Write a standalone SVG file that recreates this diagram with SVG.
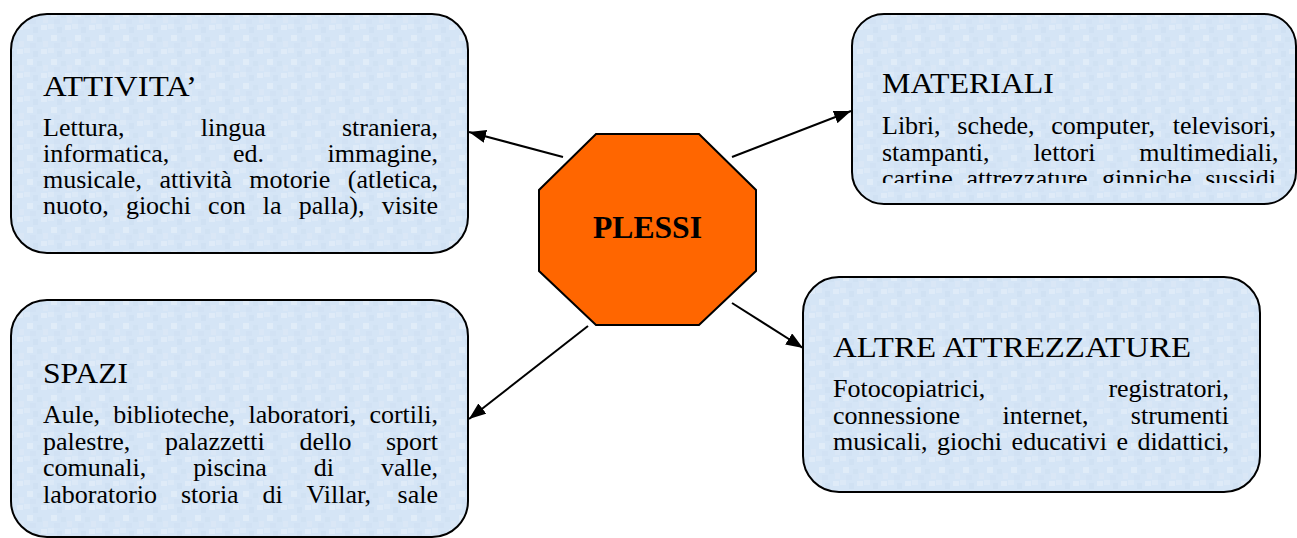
<svg xmlns="http://www.w3.org/2000/svg" width="1297" height="538" viewBox="0 0 1297 538">
<style>
.box{fill:url(#tex);stroke:#000;stroke-width:2}
.title{font-family:"Liberation Serif","Times New Roman",serif;font-size:30px;fill:#000}
.body{font-family:"Liberation Serif","Times New Roman",serif;font-size:26px;fill:#000}
.conn{stroke:#000;stroke-width:2;fill:none;marker-end:url(#arrow)}
</style>
<defs>
<pattern id="tex" width="24" height="24" patternUnits="userSpaceOnUse">
<rect width="24" height="24" fill="#d5e5f6"/>
<rect x="0" y="0" width="6" height="5" fill="#dce9f7"/>
<rect x="9" y="3" width="5" height="6" fill="#d0e1f3"/>
<rect x="17" y="1" width="6" height="5" fill="#dfebf8"/>
<rect x="3" y="11" width="6" height="6" fill="#e0ecf8"/>
<rect x="13" y="13" width="5" height="5" fill="#d1e2f3"/>
<rect x="19" y="17" width="5" height="6" fill="#dae7f6"/>
<rect x="6" y="19" width="6" height="5" fill="#d2e2f4"/>
</pattern>
<marker id="arrow" markerWidth="17" markerHeight="13" refX="17" refY="6.5" orient="auto" markerUnits="userSpaceOnUse">
<path d="M0,0 L17,6.5 L0,13 z" fill="#000"/>
</marker>
<clipPath id="clipMat"><rect x="852" y="14" width="445" height="169"/></clipPath>
</defs>

<g id="connectors">
<path class="conn" d="M563,157 L469,132"/>
<path class="conn" d="M732,157 L851,111"/>
<path class="conn" d="M588,326 L469,419"/>
<path class="conn" d="M732,303 L803,348"/>
</g>

<g id="attivita">
<rect class="box" x="11" y="14" width="457" height="239" rx="36" ry="36"/>
<text class="title" x="43" y="96" textLength="154" lengthAdjust="spacingAndGlyphs">ATTIVITA’</text>
<text class="body" y="136"><tspan x="43">Lettura,</tspan><tspan x="200.8">lingua</tspan><tspan x="342">straniera,</tspan></text>
<text class="body" y="162"><tspan x="43">informatica,</tspan><tspan x="232.9">ed.</tspan><tspan x="327.5">immagine,</tspan></text>
<text class="body" y="188"><tspan x="43">musicale,</tspan><tspan x="159.5">attività</tspan><tspan x="249.3">motorie</tspan><tspan x="347.8">(atletica,</tspan></text>
<text class="body" y="214"><tspan x="43">nuoto,</tspan><tspan x="125.9">giochi</tspan><tspan x="208.1">con</tspan><tspan x="262.8">la</tspan><tspan x="298.8">palla),</tspan><tspan x="381.7">visite</tspan></text>
</g>

<g id="materiali">
<rect class="box" x="852" y="14" width="444" height="190" rx="32" ry="32"/>
<text class="title" x="882" y="93" textLength="172" lengthAdjust="spacingAndGlyphs">MATERIALI</text>
<text class="body" y="134"><tspan x="882">Libri,</tspan><tspan x="957.3">schede,</tspan><tspan x="1051.3">computer,</tspan><tspan x="1172.7">televisori,</tspan></text>
<text class="body" y="160.5"><tspan x="882">stampanti,</tspan><tspan x="1033.4">lettori</tspan><tspan x="1139.2">multimediali,</tspan></text>
<text class="body" y="187" clip-path="url(#clipMat)"><tspan x="882">cartine,</tspan><tspan x="966.4">attrezzature</tspan><tspan x="1102.1">ginniche,</tspan><tspan x="1205.2">sussidi</tspan></text>
</g>

<g id="plessi">
<polygon points="596,134 699,134 756,190 756,271 699,325 596,325 539,271 539,190" fill="#ff6600" stroke="#000" stroke-width="2"/>
<text x="647.5" y="238" text-anchor="middle" font-family="Liberation Serif, Times New Roman, serif" font-size="31" font-weight="bold" fill="#000" textLength="109" lengthAdjust="spacingAndGlyphs">PLESSI</text>
</g>

<g id="spazi">
<rect class="box" x="11" y="300" width="457" height="237" rx="36" ry="36"/>
<text class="title" x="43" y="383" textLength="85" lengthAdjust="spacingAndGlyphs">SPAZI</text>
<text class="body" y="423"><tspan x="43">Aule,</tspan><tspan x="113.3">biblioteche,</tspan><tspan x="248.6">laboratori,</tspan><tspan x="369.4">cortili,</tspan></text>
<text class="body" y="449.5"><tspan x="43">palestre,</tspan><tspan x="165.1">palazzetti</tspan><tspan x="299.4">dello</tspan><tspan x="386">sport</tspan></text>
<text class="body" y="476"><tspan x="43">comunali,</tspan><tspan x="193.2">piscina</tspan><tspan x="313.8">di</tspan><tspan x="381">valle,</tspan></text>
<text class="body" y="502.5"><tspan x="43">laboratorio</tspan><tspan x="180.9">storia</tspan><tspan x="262.5">di</tspan><tspan x="306.5">Villar,</tspan><tspan x="397.6">sale</tspan></text>
</g>

<g id="altre">
<rect class="box" x="803" y="277" width="457" height="215" rx="36" ry="36"/>
<text class="title" x="833" y="357" textLength="358" lengthAdjust="spacingAndGlyphs">ALTRE ATTREZZATURE</text>
<text class="body" y="397"><tspan x="833">Fotocopiatrici,</tspan><tspan x="1108.4">registratori,</tspan></text>
<text class="body" y="423.5"><tspan x="833">connessione</tspan><tspan x="1002.5">internet,</tspan><tspan x="1130.8">strumenti</tspan></text>
<text class="body" y="450"><tspan x="833">musicali,</tspan><tspan x="937.1">giochi</tspan><tspan x="1011.6">educativi</tspan><tspan x="1116.4">e</tspan><tspan x="1137.4">didattici,</tspan></text>
</g>
</svg>
